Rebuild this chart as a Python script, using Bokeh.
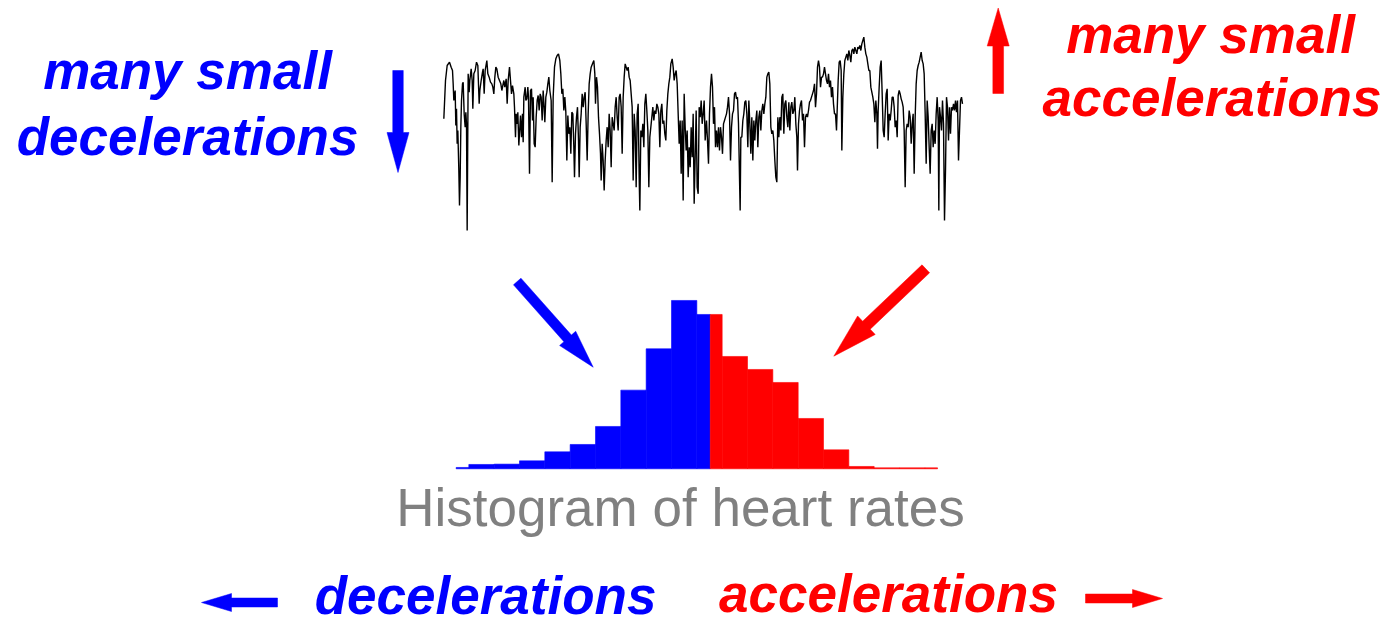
import math
from bokeh.plotting import figure
from bokeh.models import Range1d, Label
from bokeh.embed import file_html
from bokeh.resources import INLINE

# ---------------- data ----------------
# heart-rate trace: sample index, heart rate (bpm)
trace_t = [10, 15, 20, 27, 32, 36, 38, 40, 44, 46, 48, 50, 52, 55, 57, 59, 61, 63, 66, 68, 71, 74, 76, 78, 80,
           83, 86, 88, 92, 95, 97, 100, 104, 108, 112, 116, 118, 122, 126, 128, 131, 134, 139, 142, 146, 150,
           154, 157, 160, 163, 166, 169, 173, 177, 181, 184, 187, 190, 193, 197, 200, 203, 207, 210, 213, 216,
           220, 222, 225, 227, 230, 232, 235, 238, 240, 243, 246, 248, 250, 254, 256, 259, 262, 264, 267, 270,
           273, 276, 278, 281, 284, 287, 290, 293, 296, 299, 302, 305, 308, 310, 313, 316, 319, 322, 325, 328,
           332, 335, 338, 342, 346, 350, 354, 358, 361, 364, 367, 370, 373, 376, 379, 382, 385, 388, 391, 394,
           397, 400, 402, 405,
           408, 411, 414, 416, 419, 422, 425, 428, 431, 434, 437, 440, 443, 446, 449, 452, 456, 460, 463, 465,
           468, 471, 474, 477, 480, 482, 485, 488, 491, 494, 497, 500, 503, 506, 509, 512, 515, 518, 521, 524,
           527, 530, 533, 536, 539, 542, 545, 548, 551, 554, 557, 560, 563, 566, 569, 572, 575, 578, 581, 584,
           587, 590, 593, 596, 598, 601, 604, 607, 610, 613, 616, 619, 622, 625, 628, 631, 634, 637, 640, 643,
           646, 649, 652, 655, 658, 661, 664, 667, 670, 673, 676, 679, 682, 685, 688, 691, 695, 698, 701, 704,
           707, 710, 713, 716, 719, 722, 725, 728, 731, 734, 737, 740, 743, 746, 749, 752, 755, 758, 761, 764,
           767, 770, 773, 776, 779, 782, 785, 788, 791, 794,
           798, 801, 804, 807, 810, 813, 816, 819, 822, 825, 828, 831, 834, 837, 840, 843, 846, 849, 852, 855,
           858, 861, 864, 867, 870, 873, 876, 879, 882, 885, 888, 891, 894, 897, 899, 901, 904, 907, 910, 913,
           916, 919, 922, 925, 928, 931, 934, 937, 940, 943, 946, 949, 952, 955, 958, 961, 964, 967, 970, 973,
           976, 979, 982, 985, 988, 991, 994, 997, 1000, 1003, 1006, 1009, 1012, 1015, 1018, 1021, 1024, 1027,
           1030, 1033, 1036, 1039, 1042, 1045, 1048, 1051, 1054, 1057, 1060, 1063, 1066, 1069, 1071, 1074,
           1077, 1080, 1083, 1086, 1089, 1092, 1095, 1098, 1101, 1104, 1107, 1110, 1113, 1116, 1119, 1122,
           1125, 1128, 1131, 1134, 1137, 1140, 1143, 1146, 1149, 1152, 1155, 1158, 1161, 1164, 1167, 1170,
           1173, 1176, 1179, 1182,
           1185, 1188, 1190, 1193, 1196, 1199, 1202, 1204, 1207, 1210, 1213, 1216, 1219, 1222, 1225, 1228,
           1231, 1234, 1237, 1240, 1243, 1246, 1249, 1252, 1255, 1258, 1261, 1264, 1267, 1270, 1273, 1276,
           1279, 1282, 1285, 1288, 1291, 1294, 1297, 1300, 1303, 1306, 1309, 1311, 1313, 1316, 1319, 1322,
           1325, 1328, 1331, 1334, 1337, 1340, 1343, 1346, 1349, 1352, 1355, 1358, 1361, 1364, 1367, 1370,
           1373, 1376, 1379, 1382, 1385, 1388, 1391, 1394, 1397, 1400, 1403, 1406, 1409, 1412, 1415, 1418,
           1421, 1424, 1427, 1430, 1433, 1436, 1439, 1442, 1445, 1448, 1451, 1454, 1457, 1460, 1463, 1466,
           1469, 1472, 1475, 1478, 1481, 1484, 1487, 1490, 1493, 1495, 1497, 1500, 1503, 1506, 1509, 1512,
           1515, 1518, 1521, 1524, 1527, 1530, 1533, 1536, 1539, 1542, 1545, 1548, 1551, 1554, 1557, 1560,
           1563, 1566]
trace_bpm = [147, 170, 179, 181, 178, 176, 168, 158, 164, 143, 153, 132, 140, 116, 95, 112, 142, 158, 168, 169,
             150, 142, 151, 144, 80,
             174, 163, 170, 177, 170, 153, 174, 176, 181, 179, 156, 164, 170, 175, 177, 162, 176, 182, 174, 172,
             169, 168, 166, 162, 172, 178, 177, 172, 170, 168, 164, 167, 170, 166, 171, 156, 170, 178, 170, 162,
             167, 162, 154, 136, 150, 144, 151, 131, 142, 149, 136, 150, 133, 160, 166, 158, 159, 166, 160, 114,
             164, 165, 146, 160, 132, 130, 148, 158, 161, 152, 162, 160, 146, 164, 157, 145, 160, 163, 168, 172,
             164, 158, 109, 160, 178, 183, 185, 186, 182, 174, 162, 165, 152, 160, 151, 122, 149, 138, 142, 126,
             151, 150, 130, 112, 138,
             148, 154, 134, 112, 142, 150, 162, 154, 160, 163, 144, 122, 150, 168, 174, 178, 180, 182, 174, 156,
             172, 166, 148, 138, 126, 110, 132, 122, 104, 122, 134, 142, 130, 150, 140, 118, 148, 144, 140, 154,
             160, 148, 140, 160, 162, 154, 126, 160, 172, 180, 178, 176, 178, 172, 170, 162, 154, 110, 150, 140,
             106, 150, 156, 112, 92, 140, 136, 144, 130, 156, 162, 152, 140, 106, 136, 142, 148, 154, 146, 152,
             150, 156, 154, 150, 130, 152, 156, 144, 146, 138, 134, 152, 162, 168, 172, 180, 183, 178, 170, 174,
             176, 168, 150, 132, 146, 114, 146, 98, 162, 142, 128, 140, 112, 130, 118, 142, 124, 150, 96, 124,
             152, 106, 102, 154, 148, 158, 144, 150, 158, 134,
             146, 134, 120, 150, 166, 174, 166, 144, 154, 130, 140, 130, 142, 128, 142, 136, 126, 144, 146, 148,
             150, 154, 160, 150, 122, 142, 150, 152, 162, 163, 159, 160, 144, 112, 92, 136, 136, 146, 150, 157,
             158, 150, 130, 158, 144, 126, 148, 122, 146, 134, 146, 152, 130, 148, 152, 140, 152, 156, 150, 156,
             160, 172, 174, 175, 168, 142, 138, 140, 134, 122, 112, 109, 148, 136, 148, 140, 160, 162,
             138, 156, 158, 148, 142, 157, 140, 154, 157, 150, 152, 160, 144, 136, 116, 144,
             152, 156, 158, 146, 150, 130, 148, 150, 148, 152, 157, 158, 160, 162, 164, 168,
             154, 162, 178, 182, 178, 166, 172, 172, 174, 178, 174, 170, 168, 174, 166, 170,
             160, 166, 156, 150,
             150, 140, 152, 170, 181, 182, 176, 128, 160, 174, 182, 184, 186, 182, 188, 185,
             181, 188, 189, 186, 190, 188, 186, 190, 189, 191, 188, 192, 194, 196, 190, 186,
             184, 180, 176, 176, 166, 163, 160, 156, 145, 158, 150, 129, 152, 166, 178, 182,
             162, 140, 136, 150, 162, 165, 134, 150, 146, 152, 160, 160, 154, 142, 146, 136,
             161, 164, 162, 159, 157, 154, 140, 106, 140, 144, 142, 152, 148, 132, 144, 150,
             114, 148, 168, 176, 179, 181, 184, 187, 182, 180, 174, 150, 120, 158, 148, 130,
             114, 140, 144, 130, 140, 132, 150, 160, 146, 92, 154, 148, 140, 158, 144, 86,
             116, 160, 154, 134, 154, 138, 154, 152, 156, 152, 158, 151, 158, 122, 140, 158,
             160, 156]

# histogram of heart rates: bin edges (bpm) and counts
hist_edges = [119, 120, 122, 124, 126, 128, 130, 132, 134, 136, 138, 140, 142, 144, 146, 148, 150, 152, 154, 156, 157]
hist_counts = [4, 13, 14, 24, 51, 73, 127, 236, 360, 505, 463, 337, 298, 259, 151, 57, 7, 3, 3, 3]
hist_median = 139.06

# ---------------- figure ----------------
W, H = 1380, 621
p = figure(width=W, height=H, output_backend="svg", toolbar_location=None,
           x_range=Range1d(0, W), y_range=Range1d(H, 0),
           x_axis_location=None, y_axis_location=None, min_border=0,
           outline_line_color=None, background_fill_color="white", border_fill_color="white")
p.grid.visible = False

p.extra_x_ranges = {"t": Range1d(-1320, 2820), "hr": Range1d(83.03, 191.97)}
p.extra_y_ranges = {"bpm": Range1d(-154.6, 218.0), "cnt": Range1d(-458.1, 1404.9)}

BLUE = "#0000FF"
RED = "#FF0000"

# trace
p.line(trace_t, trace_bpm, x_range_name="t", y_range_name="bpm", line_color="black", line_width=1.4)

# histogram split at the median
bl, br, bt, rl, rr, rt = [], [], [], [], [], []
for i, c in enumerate(hist_counts):
    l, r = hist_edges[i], hist_edges[i + 1]
    if l < hist_median:
        bl.append(l); br.append(min(r, hist_median)); bt.append(c)
    if r > hist_median:
        rl.append(max(l, hist_median)); rr.append(r); rt.append(c)
p.quad(left=bl, right=br, top=bt, bottom=0, x_range_name="hr", y_range_name="cnt",
       fill_color=BLUE, line_color=BLUE, line_width=0.6)
p.quad(left=rl, right=rr, top=rt, bottom=0, x_range_name="hr", y_range_name="cnt",
       fill_color=RED, line_color=RED, line_width=0.6)


# arrows (decorations)
def arrow_poly(x0, y0, x1, y1, shaft, head_len, head_w):
    dx, dy = x1 - x0, y1 - y0
    L = math.hypot(dx, dy)
    ux, uy = dx / L, dy / L
    px, py = -uy, ux
    bx, by = x1 - ux * head_len, y1 - uy * head_len
    s, h = shaft / 2, head_w / 2
    xs = [x0 + px * s, bx + px * s, bx + px * h, x1, bx - px * h, bx - px * s, x0 - px * s]
    ys = [y0 + py * s, by + py * s, by + py * h, y1, by - py * h, by - py * s, y0 - py * s]
    return xs, ys


arrows = [
    ((397.5, 70, 397.5, 172, 10.5, 40, 22), BLUE),
    ((997.7, 93, 997.7, 7.5, 10.7, 38, 22), RED),
    ((516.7, 281, 592.7, 366.7, 10, 38.5, 21.5), BLUE),
    ((925.3, 268.3, 833.3, 355.7, 11, 45, 25.5), RED),
    ((277, 602, 201, 602, 9, 30, 18), BLUE),
    ((1085, 598, 1162, 598, 9, 30, 18), RED),
]
axs, ays, acol = [], [], []
for args, col in arrows:
    xs, ys = arrow_poly(*args)
    axs.append(xs); ays.append(ys); acol.append(col)
p.patches(axs, ays, fill_color=acol, line_color=acol, line_width=0.5)

# texts (y values are tuned for Bokeh's text placement)
FONT = "Liberation Sans"
labels = [
    ("many small", 187, 69.5, BLUE, "bold italic"),
    ("decelerations", 187, 136, BLUE, "bold italic"),
    ("many small", 1210, 33.5, RED, "bold italic"),
    ("accelerations", 1211.5, 97, RED, "bold italic"),
    ("Histogram of heart rates", 680, 506.5, "#808080", "normal"),
    ("decelerations", 485, 595, BLUE, "bold italic"),
    ("accelerations", 888, 593, RED, "bold italic"),
]
for txt, x, y, col, style in labels:
    p.add_layout(Label(x=x, y=y, text=txt, text_color=col, text_font=FONT, text_font_size="53px",
                       text_font_style=style, text_align="center", text_baseline="alphabetic"))

open("out.html", "w").write(file_html(p, INLINE))
